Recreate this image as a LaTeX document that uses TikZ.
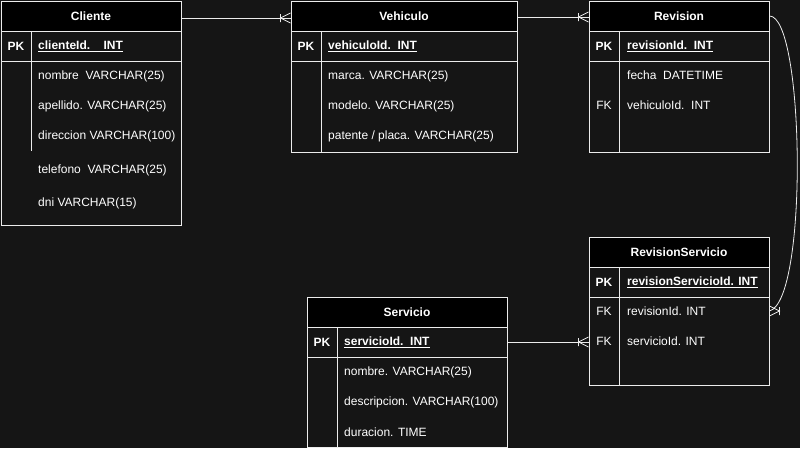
\documentclass[tikz,border=0pt]{standalone}
\usepackage{fontspec}
\setmainfont{Liberation Sans}
\usepackage{tikz}
\usetikzlibrary{calc}
\definecolor{bgdark}{RGB}{21,21,21}
\definecolor{lineclr}{RGB}{236,236,236}
\def\crowleft(#1){\draw[conn,shift={(#1)}] (0,-5) -- (-10,0) -- (0,5) (-10,-4) -- (-10,4);}
\def\crowright(#1){\draw[conn,shift={(#1)}] (0,-5) -- (10,0) -- (0,5) (10,-4) -- (10,4);}
\tikzset{
  hdr/.style={draw=lineclr, fill=black, text=white, line width=1pt, minimum height=30, inner sep=0pt, font=\fontsize{12}{14}\selectfont\bfseries},
  tbl/.style={draw=lineclr, line width=1pt},
  fld/.style={anchor=west, inner sep=0pt, text=white, font=\fontsize{12}{14}\selectfont},
  key/.style={inner sep=0pt, text=white, font=\fontsize{12}{14}\selectfont},
  conn/.style={draw=lineclr, line width=0.8pt}
}

\begin{document}
\begin{tikzpicture}[x=1pt,y=-1pt]
			%%%%% START %%%%%
			
			\fill[bgdark] (0,0) rectangle (800,448);
			\useasboundingbox (0,0) rectangle (800,448);
			
			% Cliente
			\node[hdr, minimum width=180] (cliente) at (91,16) {Cliente};
			\draw[tbl] (1,31) rectangle (181,225);
			\draw[tbl] (1,61) -- (181,61);
			\draw[tbl] (31,31) -- (31,151);
			\node[key] (cli-pk) at (16,46) {\bfseries PK};
			\node[fld] (cli-id) at (38,46) {\bfseries\underline{clienteId.~~~~INT}};
			\node[fld] (cli-1) at (38,76) {nombre~~VARCHAR(25)};
			\node[fld] (cli-2) at (38,106) {apellido. VARCHAR(25)};
			\node[fld] (cli-3) at (38,136) {direccion VARCHAR(100)};
			\node[fld] (cli-4) at (38,170) {telefono~~VARCHAR(25)};
			\node[fld] (cli-5) at (38,203) {dni VARCHAR(15)};
			
			% Vehiculo
			\node[hdr, minimum width=226] (vehiculo) at (404,16) {Vehiculo};
			\draw[tbl] (291,31) rectangle (517,152);
			\draw[tbl] (291,61) -- (517,61);
			\draw[tbl] (321,31) -- (321,152);
			\node[key] (veh-pk) at (306,46) {\bfseries PK};
			\node[fld] (veh-id) at (328,46) {\bfseries\underline{vehiculoId.~~INT}};
			\node[fld] (veh-1) at (328,76) {marca. VARCHAR(25)};
			\node[fld] (veh-2) at (328,106) {modelo. VARCHAR(25)};
			\node[fld] (veh-3) at (328,136) {patente / placa. VARCHAR(25)};
			
			% Revision
			\node[hdr, minimum width=180] (revision) at (679,16) {Revision};
			\draw[tbl] (589,31) rectangle (769,152);
			\draw[tbl] (589,61) -- (769,61);
			\draw[tbl] (619,31) -- (619,152);
			\node[key] (rev-pk) at (604,46) {\bfseries PK};
			\node[fld] (rev-id) at (627,46) {\bfseries\underline{revisionId.~~INT}};
			\node[fld] (rev-1) at (627,75) {fecha~~DATETIME};
			\node[key] (rev-fk) at (604,105) {FK};
			\node[fld] (rev-2) at (627,105) {vehiculoId.~~INT};
			
			% RevisionServicio
			\node[hdr, minimum width=180] (revserv) at (679,252) {RevisionServicio};
			\draw[tbl] (589,267) rectangle (769,385);
			\draw[tbl] (589,297) -- (769,297);
			\draw[tbl] (619,267) -- (619,385);
			\node[key] (rs-pk) at (604,282) {\bfseries PK};
			\node[fld] (rs-id) at (627,282) {\bfseries\underline{revisionServicioId. INT}};
			\node[key] (rs-fk1) at (604,311) {FK};
			\node[fld] (rs-1) at (627,311) {revisionId. INT};
			\node[key] (rs-fk2) at (604,341) {FK};
			\node[fld] (rs-2) at (627,341) {servicioId. INT};
			
			% Servicio
			\node[hdr, minimum width=200] (servicio) at (407,312) {Servicio};
			\draw[tbl] (307,327) rectangle (507,447);
			\draw[tbl] (307,357) -- (507,357);
			\draw[tbl] (337,327) -- (337,447);
			\node[key] (ser-pk) at (322,342) {\bfseries PK};
			\node[fld] (ser-id) at (344,342) {\bfseries\underline{servicioId.~~INT}};
			\node[fld] (ser-1) at (344,372) {nombre. VARCHAR(25)};
			\node[fld] (ser-2) at (344,402) {descripcion. VARCHAR(100)};
			\node[fld] (ser-3) at (344,432) {duracion. TIME};
			
			% relaciones
			\coordinate (cli-out) at ([yshift=-2]cliente.east);
			\coordinate (veh-in) at ([yshift=-2]vehiculo.west);
			\draw[conn] (cli-out) -- (veh-in);
			\crowleft(veh-in)
			
			\coordinate (veh-out) at ([yshift=-1]vehiculo.east);
			\coordinate (rev-in) at ([yshift=-1]revision.west);
			\draw[conn] (veh-out) -- (rev-in);
			\crowleft(rev-in)
			
			\coordinate (ser-out) at (ser-pk -| 507,0);
			\coordinate (rs-in) at (ser-pk -| revserv.west);
			\draw[conn] (ser-out) -- (rs-in);
			\crowleft(rs-in)
			
			\coordinate (rs-back) at (rs-fk1 -| revserv.east);
			\draw[conn] (revision.east) .. controls +(35,0) and +(39,-11) .. (rs-back);
			\crowright(rs-back)
			
			%%%%% END %%%%%
\end{tikzpicture}
\end{document}
